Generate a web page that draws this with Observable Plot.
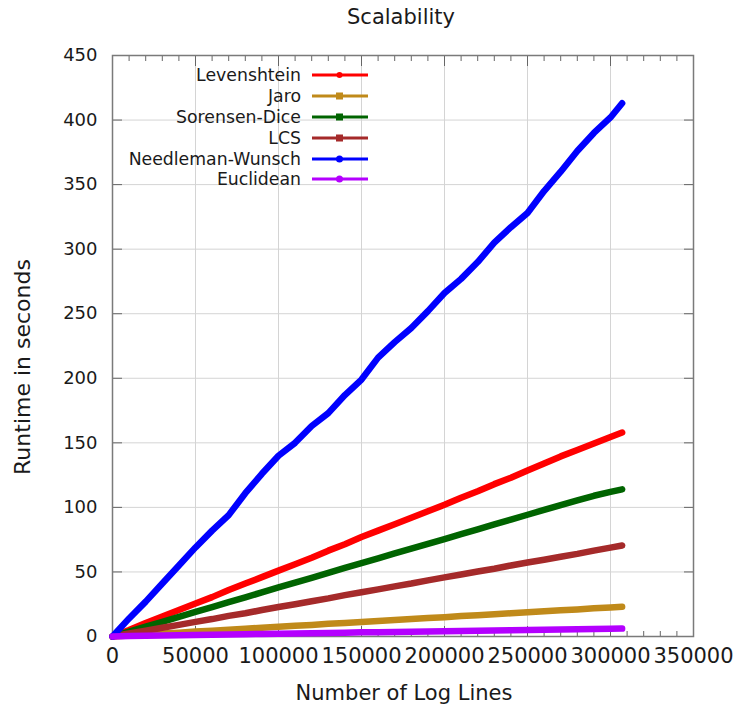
<!DOCTYPE html>
<html><head><meta charset="utf-8">
<script src="https://cdn.jsdelivr.net/npm/d3@7"></script>
<script src="https://cdn.jsdelivr.net/npm/@observablehq/plot@0.6"></script>
<style>
body{margin:0;background:#fff;font-family:"DejaVu Sans",Verdana,sans-serif;}
#wrap{position:relative;width:737px;height:711px;overflow:hidden;}
#wrap > svg{position:absolute;left:0;top:0;}
.t{position:absolute;color:#1a1a1a;white-space:nowrap;}
#legend{position:absolute;left:0;top:0;}
.row{position:absolute;display:flex;align-items:center;}
.row span{display:inline-block;text-align:right;color:#1a1a1a;}
</style></head><body><div id="wrap"></div>
<script>
// ---- data ----
const logLines = [0,10000,20000,30000,40000,50000,60000,70000,80000,90000,100000,110000,120000,130000,140000,150000,160000,170000,180000,190000,200000,210000,220000,230000,240000,250000,260000,270000,280000,290000,300000,307000];
const seriesNames = ["Levenshtein","Jaro","Sorensen-Dice","LCS","Needleman-Wunsch","Euclidean"];
const seriesColors = ["#ff0000","#c08a1a","#006400","#a52a2a","#0000ff","#b400ff"];
const seriesSymbols = ["dot","square","square","square","circle","circle"];
const levenshtein = [0,5,10.5,15.5,20.5,25.5,30.5,36,41,46,51,56,61,66.5,71.5,77,82,87,92,97,102,107.5,112.5,118,123,128.5,134,139.5,144.5,149.5,154.5,158];
const jaro = [0,0.8,1.5,2.3,3,3.8,4.5,5.3,6,6.8,7.5,8.3,9,9.8,10.5,11.3,12,12.8,13.5,14.3,15,15.8,16.5,17.3,18,18.8,19.5,20.3,21,21.8,22.5,23];
const sorensenDice = [0,3.7,7.6,11.3,15.2,19,22.8,26.6,30.3,34.2,38,41.8,45.5,49.3,53.2,56.8,60.5,64.3,68,71.8,75.5,79.2,83,86.8,90.5,94.3,98,101.8,105.5,109,112,114];
const lcs = [0,2.3,4.5,6.8,9,11.3,13.5,16,18,20.5,22.8,25,27.3,29.5,32,34.3,36.5,38.8,41,43.5,45.8,48,50.3,52.5,55,57.3,59.5,61.8,64,66.5,68.8,70.5];
const needlemanWunsch = [0,14,27,41,55,69,82,94,111,126,140,150,163,173,187,199,216,228,239,252,266,277,290,305,317,328,345,360,376,390,402,413];
const euclidean = [0,0.3,0.5,0.8,1,1.2,1.4,1.6,1.8,2,2.2,2.4,2.6,2.8,3,3.2,3.3,3.5,3.7,3.9,4.1,4.3,4.5,4.7,4.9,5.1,5.3,5.5,5.7,5.9,6,6.1];
const seriesValues = [levenshtein, jaro, sorensenDice, lcs, needlemanWunsch, euclidean];
const xTicks = [0,50000,100000,150000,200000,250000,300000,350000];
const xMinorTicks = d3.range(0, 350001, 10000);
const yTicks = [0,50,100,150,200,250,300,350,400,450];
const titleText = "Scalability";
const xLabel = "Number of Log Lines";
const yLabel = "Runtime in seconds";

// ---- build ----
const rows = [];
seriesNames.forEach((name, i) => seriesValues[i].forEach((v, j) => rows.push({series: name, x: logLines[j], y: v})));

const font = "DejaVu Sans, Verdana, sans-serif";
const chart = Plot.plot({
  width: 737, height: 711,
  marginLeft: 112, marginRight: 44, marginTop: 55, marginBottom: 75,
  style: {fontFamily: font, background: "white", color: "#1a1a1a"},
  x: {domain: [0, 350000]},
  y: {domain: [0, 450]},
  color: {domain: seriesNames, range: seriesColors},
  marks: [
    Plot.gridX(xTicks, {stroke: "#d4d4d4", strokeOpacity: 1, strokeWidth: 1}),
    Plot.gridY(yTicks, {stroke: "#d4d4d4", strokeOpacity: 1, strokeWidth: 1}),
    Plot.axisX(xMinorTicks, {anchor: "bottom", tickSize: -5, tickFormat: () => "", label: null, stroke: "#666"}),
    Plot.axisX(xMinorTicks, {anchor: "top", tickSize: -5, tickFormat: () => "", label: null, stroke: "#666"}),
    Plot.axisX(xTicks, {anchor: "bottom", tickSize: -10, tickFormat: () => "", label: null, stroke: "#666"}),
    Plot.axisX(xTicks, {anchor: "top", tickSize: -10, tickFormat: () => "", label: null, stroke: "#666"}),
    Plot.axisY(yTicks, {anchor: "left", tickSize: -10, tickFormat: () => "", label: null, stroke: "#666"}),
    Plot.axisY(yTicks, {anchor: "right", tickSize: -10, tickFormat: () => "", label: null, stroke: "#666"}),
    Plot.axisX(xTicks, {anchor: "bottom", tickSize: 0, tickPadding: 12, tickFormat: d => String(d), label: null, fontSize: 21, fill: "#1a1a1a"}),
    Plot.axisY(yTicks, {anchor: "left", tickSize: 0, tickPadding: 15, tickFormat: d => String(d), label: null, fontSize: 18, fill: "#1a1a1a"}),
    Plot.frame({stroke: "#7a7a7a", strokeWidth: 1.5}),
    Plot.line(rows, {x: "x", y: "y", z: "series", stroke: "series", strokeWidth: 6.5, strokeLinejoin: "round", strokeLinecap: "round"})
  ]
});

const wrap = document.getElementById("wrap");
wrap.appendChild(chart);

function addText(txt, css) {
  const d = document.createElement("div");
  d.className = "t";
  d.textContent = txt;
  Object.assign(d.style, css);
  wrap.appendChild(d);
  return d;
}
addText(titleText, {left: "401px", top: "17px", transform: "translate(-50%,-50%)", fontSize: "21px"});
addText(xLabel, {left: "404px", top: "693px", transform: "translate(-50%,-50%)", fontSize: "21px"});
addText(yLabel, {left: "22px", top: "367px", transform: "translate(-50%,-50%) rotate(-90deg)", fontSize: "22px"});

// legend
const legend = document.createElement("div");
legend.id = "legend";
wrap.appendChild(legend);
const rowTops = [75, 96, 117, 138, 158.5, 179];
seriesNames.forEach((name, i) => {
  const r = document.createElement("div");
  r.className = "row";
  r.style.left = "100px";
  r.style.top = (rowTops[i] - 11) + "px";
  r.style.height = "22px";
  const s = document.createElement("span");
  s.textContent = name;
  s.style.width = "201px";
  s.style.fontSize = "17.3px";
  r.appendChild(s);
  const ns = "http://www.w3.org/2000/svg";
  const svg = document.createElementNS(ns, "svg");
  svg.setAttribute("width", 60); svg.setAttribute("height", 22);
  svg.style.marginLeft = "11px";
  const ln = document.createElementNS(ns, "line");
  ln.setAttribute("x1", 0); ln.setAttribute("x2", 56); ln.setAttribute("y1", 11); ln.setAttribute("y2", 11);
  ln.setAttribute("stroke", seriesColors[i]); ln.setAttribute("stroke-width", 3);
  svg.appendChild(ln);
  let m;
  if (seriesSymbols[i] === "square") {
    m = document.createElementNS(ns, "rect");
    m.setAttribute("x", 24); m.setAttribute("y", 7.5); m.setAttribute("width", 7); m.setAttribute("height", 7);
  } else {
    m = document.createElementNS(ns, "circle");
    m.setAttribute("cx", 27.5); m.setAttribute("cy", 11); m.setAttribute("r", seriesSymbols[i] === "dot" ? 3 : 3.5);
  }
  m.setAttribute("fill", seriesColors[i]);
  svg.appendChild(m);
  r.appendChild(svg);
  legend.appendChild(r);
});
</script>
</body></html>
